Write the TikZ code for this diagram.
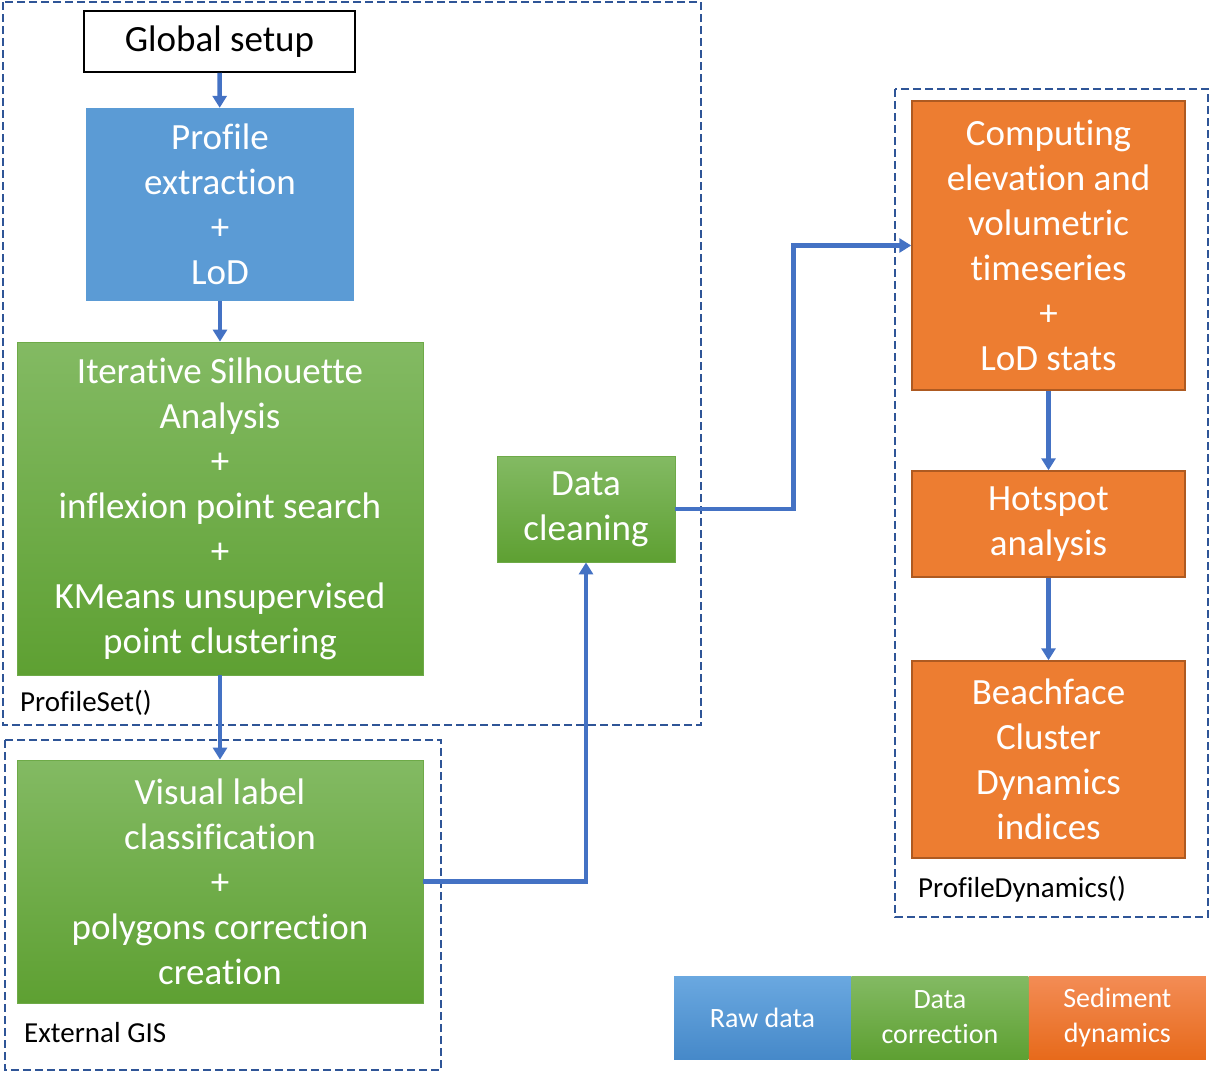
\documentclass[tikz,border=0pt]{standalone}
\usepackage{fontspec}
\setmainfont{Carlito}[Ligatures=NoCommon]
\usetikzlibrary{arrows.meta, positioning, calc}
\definecolor{rawblue}{HTML}{5B9BD5}
\definecolor{rawtop}{HTML}{6AA8E0}
\definecolor{rawbot}{HTML}{4689C9}
\definecolor{fixtop}{HTML}{83BA63}
\definecolor{fixbot}{HTML}{5EA032}
\definecolor{fixline}{HTML}{6EAA48}
\definecolor{sedorange}{HTML}{ED7D31}
\definecolor{sedline}{HTML}{AE5A21}
\definecolor{sedtop}{HTML}{F38C55}
\definecolor{sedbot}{HTML}{E76A1B}
\definecolor{grpline}{HTML}{2F5597}
\definecolor{flowline}{HTML}{4472C4}
\tikzset{
  flow node/.style={
    rectangle, inner sep=0pt, align=center, text=white,
    font=\fontsize{37}{45}\selectfont
  },
  flow start/.style={
    flow node, draw=black, line width=1.5pt, fill=white, text=black
  },
  flow raw/.style={
    flow node, fill=rawblue
  },
  flow fix/.style={
    flow node, draw=fixline, line width=0.8pt,
    top color=fixtop, bottom color=fixbot
  },
  flow sed/.style={
    flow node, draw=sedline, line width=1.5pt, fill=sedorange
  },
  flow key/.style={
    flow node, minimum width=177pt, minimum height=83pt,
    font=\fontsize{28}{35}\selectfont
  },
  flow arrow/.style={
    -{Triangle[length=12pt, width=14pt]}, line width=4.5pt, draw=flowline
  },
  flow group/.style={
    draw=grpline, line width=1.8pt, dash pattern=on 8pt off 4pt
  },
  flow tag/.style={
    anchor=west, inner sep=0pt, font=\fontsize{29}{35}\selectfont
  }
}
\begin{document}
\begin{tikzpicture}[x=1pt, y=-1pt]
  \useasboundingbox (0,0) rectangle (1209,1072);

  % groups
  \draw [flow group] (3,2) rectangle (701,725);
  \draw [flow group] (5,740) rectangle (441,1070);
  \draw [flow group] (895,89) rectangle (1208,917);
  \node (tagset) [flow tag] at (20,703) {ProfileSet()};
  \node (taggis) [flow tag] at (24,1033) {External GIS};
  \node (tagdyn) [flow tag] at (918,889) {ProfileDynamics()};

  % left column
  \node (setup) [flow start, minimum width=271pt, minimum height=61pt] at (219.5,41.5) {\raisebox{-2pt}{Global setup}};
  \node (extract) [flow raw, minimum width=268pt, minimum height=193pt] at (220,204.5) {Profile\\extraction\\+\\LoD};
  \node (silh) [flow fix, minimum width=406pt, minimum height=333pt] at (220,508.5)
    {Iterative Silhouette\\Analysis\\+\\inflexion point search\\+\\KMeans unsupervised\\point clustering};
  \node (visual) [flow fix, minimum width=406pt, minimum height=243pt] at (220,881.5)
    {Visual label\\classification\\+\\polygons correction\\creation};
  \node (clean) [flow fix, minimum width=178pt, minimum height=106pt] at (586,509) {Data\\cleaning};

  % right column
  \node (comp) [flow sed, minimum width=273pt, minimum height=289pt] at (1048.5,245.5)
    {Computing\\elevation and\\volumetric\\timeseries\\+\\LoD stats};
  \node (hot) [flow sed, minimum width=273pt, minimum height=106pt] at (1048.5,524) {Hotspot\\analysis};
  \node (beach) [flow sed, minimum width=273pt, minimum height=197pt] at (1048.5,759.5)
    {Beachface\\Cluster\\Dynamics\\indices};

  % legend
  \node (keyraw) [flow key, top color=rawtop, bottom color=rawbot] at (762.5,1017.5) {Raw data};
  \node (keyfix) [flow key, top color=fixtop, bottom color=fixbot, right=0pt of keyraw] {Data\\correction};
  \node (keysed) [flow key, top color=sedtop, bottom color=sedbot, right=0pt of keyfix] {Sediment\\dynamics};

  % connectors
  \coordinate (bend) at ($(clean.east)!0.5!(comp.west)$);
  \draw [flow arrow] (setup) -- (extract);
  \draw [flow arrow] (extract) -- (silh);
  \draw [flow arrow] (silh) -- (visual);
  \draw [flow arrow] (visual.east) -| (clean.south);
  \draw [flow arrow] (clean.east) -| (bend) |- (comp.west);
  \draw [flow arrow] (comp) -- (hot);
  \draw [flow arrow] (hot) -- (beach);
\end{tikzpicture}
\end{document}
